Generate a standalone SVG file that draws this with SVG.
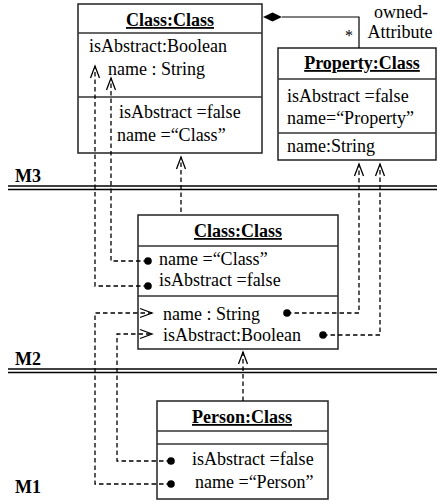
<svg xmlns="http://www.w3.org/2000/svg" width="437" height="501" viewBox="0 0 437 501">
  <style>
    text { font-family: "Liberation Serif", "Times New Roman", serif; font-size: 18px; fill: #000; }
    .hdr { font-weight: bold; text-anchor: middle; text-decoration: underline; }
    .lvl { font-weight: bold; }
    .box { fill: #fff; stroke: #222; stroke-width: 1.5; }
    .sep { stroke: #333; stroke-width: 1.5; }
    .dep { fill: none; stroke: #000; stroke-width: 1.3; stroke-dasharray: 4.5 3; marker-end: url(#open); }
    .dot { fill: #000; }
    .tier { stroke: #000; stroke-width: 1.5; }
  </style>
  <defs>
    <!-- open chevron head for the dashed instance-of links -->
    <marker id="open" markerUnits="userSpaceOnUse" markerWidth="16" markerHeight="14" refX="13" refY="7" orient="auto" viewBox="0 0 16 14">
      <path d="M 1 2.5 L 13 7 L 1 11.5" fill="none" stroke="#000" stroke-width="1.3"/>
    </marker>
  </defs>

  <!-- metalevel separators -->
  <g id="levels">
    <line class="tier" x1="8" y1="186" x2="437" y2="186"/>
    <line class="tier" x1="8" y1="189.5" x2="437" y2="189.5"/>
    <line class="tier" x1="8" y1="369" x2="437" y2="369"/>
    <line class="tier" x1="8" y1="372.5" x2="437" y2="372.5"/>
    <text class="lvl" x="15" y="182">M3</text>
    <text class="lvl" x="15" y="365">M2</text>
    <text class="lvl" x="15" y="493">M1</text>
  </g>

  <!-- M3: Class:Class -->
  <g id="m3-class">
    <rect class="box" x="78" y="4" width="184" height="149"/>
    <line class="sep" x1="78" y1="33" x2="262" y2="33"/>
    <line class="sep" x1="78" y1="97" x2="262" y2="97"/>
    <text class="hdr" x="170" y="26">Class:Class</text>
    <text x="89" y="52">isAbstract:Boolean</text>
    <text x="108" y="75">name : String</text>
    <text x="119" y="118">isAbstract =false</text>
    <text x="117" y="141">name =“Class”</text>
  </g>

  <!-- M3: Property:Class -->
  <g id="m3-property">
    <rect class="box" x="278" y="48" width="158" height="112"/>
    <line class="sep" x1="278" y1="79" x2="436" y2="79"/>
    <line class="sep" x1="278" y1="133" x2="436" y2="133"/>
    <text class="hdr" x="362" y="69">Property:Class</text>
    <text x="287" y="102">isAbstract =false</text>
    <text x="287" y="124">name=“Property”</text>
    <text x="287" y="152">name:String</text>
  </g>

  <!-- M2: Class:Class -->
  <g id="m2-class">
    <rect class="box" x="138" y="215" width="200" height="134"/>
    <line class="sep" x1="138" y1="246" x2="338" y2="246"/>
    <line class="sep" x1="138" y1="296" x2="338" y2="296"/>
    <text class="hdr" x="238" y="237">Class:Class</text>
    <text x="159" y="265">name =“Class”</text>
    <text x="159" y="286">isAbstract =false</text>
    <text x="163" y="320">name : String</text>
    <text x="163" y="341">isAbstract:Boolean</text>
  </g>

  <!-- M1: Person:Class -->
  <g id="m1-person">
    <rect class="box" x="157" y="401" width="171" height="98"/>
    <line class="sep" x1="157" y1="431" x2="328" y2="431"/>
    <line class="sep" x1="157" y1="444" x2="328" y2="444"/>
    <text class="hdr" x="242" y="423">Person:Class</text>
    <text x="192" y="465">isAbstract =false</text>
    <text x="195" y="488">name =“Person”</text>
  </g>

  <!-- connectors -->
  <g id="connectors">
    <!-- ownedAttribute composition -->
    <polygon points="263,17 272.5,12.5 282,17 272.5,21.5" fill="#000"/>
    <polyline points="282,17 359,17 359,48" fill="none" stroke="#000" stroke-width="1.2"/>
    <text x="345" y="41" style="font-size:16px">*</text>
    <text x="401" y="18" text-anchor="middle">owned-</text>
    <text x="400" y="38" text-anchor="middle">Attribute</text>

    <!-- instance-of dependencies -->
    <path class="dep" d="M 181 212 V 157"/>
    <path class="dep" d="M 148 261 H 111 V 78"/>
    <path class="dep" d="M 148 286 H 95 V 66"/>
    <path class="dep" d="M 287 313 H 359 V 164"/>
    <path class="dep" d="M 323 335 H 380 V 164"/>
    <path class="dep" d="M 171 461 H 117 V 334 H 152"/>
    <path class="dep" d="M 171 484 H 95 V 313 H 152"/>
    <path class="dep" d="M 243 401 V 352"/>

    <!-- slot dots -->
    <circle class="dot" cx="148" cy="261" r="3.8"/>
    <circle class="dot" cx="148" cy="286" r="3.8"/>
    <circle class="dot" cx="287" cy="313" r="3.8"/>
    <circle class="dot" cx="323" cy="335" r="3.8"/>
    <circle class="dot" cx="171" cy="461" r="3.8"/>
    <circle class="dot" cx="171" cy="484" r="3.8"/>
  </g>
</svg>
